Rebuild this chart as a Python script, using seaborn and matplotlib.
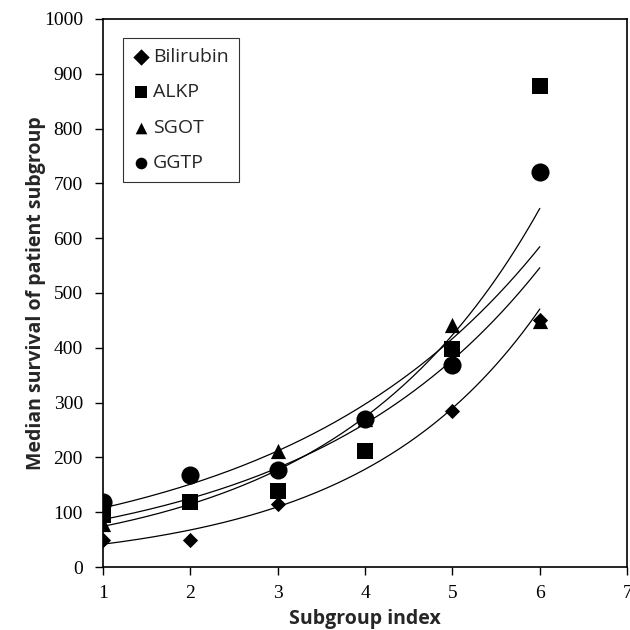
import numpy as np
import pandas as pd
import seaborn as sns
from matplotlib import pyplot as plt

# 数据：亚组编号与各指标的中位生存期
subgroups = [1, 2, 3, 4, 5, 6]
bilirubin = [49, 49, 115, 212, 285, 450]
alkp = [94, 118, 139, 212, 398, 878]
sgot = [78, 120, 212, 270, 441, 448]
ggtp = [118, 167, 177, 270, 368, 720]

series_names = ['Bilirubin', 'ALKP', 'SGOT', 'GGTP']
series_values = [bilirubin, alkp, sgot, ggtp]
markers = ['D', 's', '^', 'o']
marker_sizes = [60, 130, 120, 170]

sns.set_style('white')
plt.rcParams['font.family'] = ['Liberation Serif', 'DejaVu Serif']

fig = plt.figure(figsize=(6.3, 6.3), dpi=100)
ax = fig.add_axes([0.1635, 0.1, 0.832, 0.87])

# 指数趋势线（对数线性拟合）
x_fit = np.linspace(1, 6, 200)
for name, vals in zip(series_names, series_values):
    k, b = np.polyfit(subgroups, np.log(vals), 1)
    fit_df = pd.DataFrame({'x': x_fit, 'y': np.exp(b + k * x_fit)})
    sns.lineplot(data=fit_df, x='x', y='y', color='black', linewidth=0.9, ax=ax, legend=False)

# 散点
for name, vals, m, s in zip(series_names, series_values, markers, marker_sizes):
    df = pd.DataFrame({'x': subgroups, 'y': vals})
    sns.scatterplot(data=df, x='x', y='y', marker=m, s=s, color='black',
                    edgecolor='black', linewidth=0, label=name, ax=ax, zorder=3)

ax.set_xlim(1, 7)
ax.set_ylim(0, 1000)
ax.set_xticks(range(1, 8))
ax.set_yticks(range(0, 1001, 100))
ax.tick_params(axis='both', direction='out', length=6, width=1,
               labelsize=14, colors='black', bottom=True, left=True)
ax.tick_params(axis='x', pad=7)
ax.tick_params(axis='y', pad=8.5)
for sp in ax.spines.values():
    sp.set_visible(True)
    sp.set_color('black')
    sp.set_linewidth(1.2)

ax.set_xlabel('Subgroup index', fontsize=14, fontweight='bold', family='Open Sans', labelpad=5)
ax.set_ylabel('Median survival of patient subgroup', fontsize=14, fontweight='bold',
              family='Open Sans')
ax.yaxis.set_label_coords(-0.109, 0.5)

leg = ax.legend(loc='upper left', bbox_to_anchor=(0.038, 0.965), frameon=True, fancybox=False,
                edgecolor='black', handletextpad=0.15, handlelength=0.9, labelspacing=0.9,
                borderpad=0.5, borderaxespad=0, prop={'family': 'Open Sans', 'size': 14})
leg.get_frame().set_linewidth(0.8)
for h in leg.legend_handles:
    h.set_sizes([70])

plt.savefig('out.png', dpi=100)
